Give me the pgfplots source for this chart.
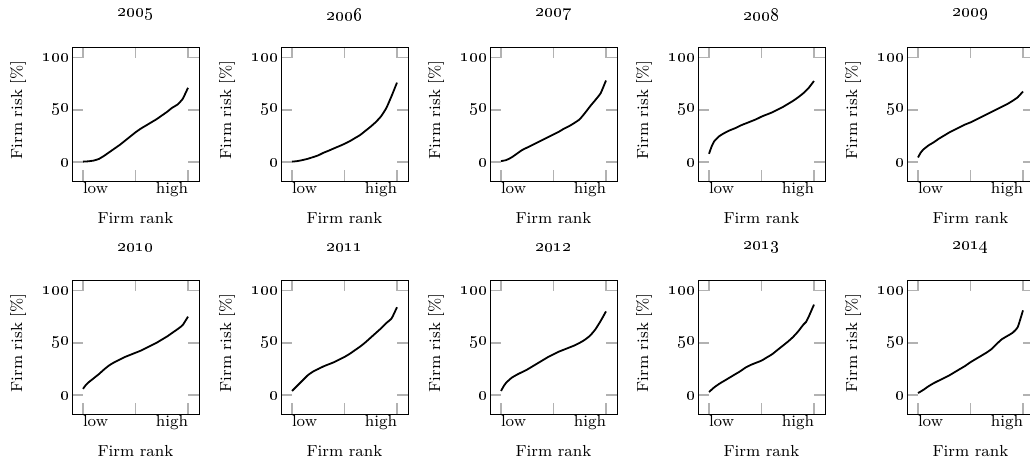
\documentclass[border=0pt]{standalone}
\usepackage{pgfplots}
\usepackage{pgfplotstable}
\pgfplotsset{compat=1.18}

% Firm risk (in %) against firm rank, one table per year
\pgfplotstableread{
x y
0 0.5
0.05 0.8
0.1 1.5
0.15 3
0.2 6
0.25 9.5
0.3 13
0.35 16.5
0.4 20.5
0.45 24.5
0.5 28.5
0.55 32
0.6 35
0.65 38
0.7 41
0.75 44.5
0.8 48
0.85 52
0.9 55
0.95 60.5
1 71
}\riskA
\pgfplotstableread{
x y
0 0.5
0.05 1
0.1 2
0.15 3.2
0.2 4.8
0.25 6.5
0.3 9
0.35 11
0.4 13.2
0.45 15.3
0.5 17.5
0.55 20
0.6 23
0.65 26
0.7 30
0.75 34
0.8 38.5
0.85 44
0.9 52
0.95 63.5
1 76
}\riskB
\pgfplotstableread{
x y
0 1
0.05 2
0.1 4.5
0.15 8
0.2 11.5
0.25 14
0.3 16.5
0.35 19
0.4 21.5
0.45 24
0.5 26.5
0.55 29
0.6 32
0.65 34.5
0.7 37.5
0.75 41
0.8 47
0.85 53.5
0.9 59.5
0.95 66
1 78
}\riskC
\pgfplotstableread{
x y
0 8
0.025 15
0.05 20
0.1 25
0.15 28
0.2 30.5
0.25 32.5
0.3 35
0.35 37
0.4 39
0.45 41
0.5 43.5
0.55 45.5
0.6 47.5
0.65 50
0.7 52.5
0.75 55.5
0.8 58.5
0.85 62
0.9 66
0.95 71
1 77.5
}\riskD
\pgfplotstableread{
x y
0 4.5
0.025 9
0.05 12
0.1 16
0.15 19
0.2 22.5
0.25 25.5
0.3 28.5
0.35 31
0.4 33.5
0.45 36
0.5 38
0.55 40.5
0.6 43
0.65 45.5
0.7 48
0.75 50.5
0.8 53
0.85 55.5
0.9 58.5
0.95 62
1 67.5
}\riskE
\pgfplotstableread{
x y
0 6
0.025 9.5
0.05 12
0.1 16
0.15 20
0.2 24.5
0.25 28.5
0.3 31.5
0.35 34
0.4 36.5
0.45 38.5
0.5 40.5
0.55 42.5
0.6 45
0.65 47.5
0.7 50
0.75 53
0.8 56
0.85 59.5
0.9 63
0.95 67
1 75
}\riskF
\pgfplotstableread{
x y
0 4
0.05 9
0.1 14
0.15 19
0.2 22.5
0.25 25
0.3 27.5
0.35 29.5
0.4 31.5
0.45 34
0.5 36.5
0.55 39.5
0.6 43
0.65 46.5
0.7 50.5
0.75 55
0.8 59.5
0.85 64
0.9 69
0.95 73.5
1 84
}\riskG
\pgfplotstableread{
x y
0 4
0.025 8.5
0.05 12
0.1 16.5
0.15 19.5
0.2 22
0.25 24.5
0.3 27.5
0.35 30.5
0.4 33.5
0.45 36.5
0.5 39
0.55 41.5
0.6 43.5
0.65 45.5
0.7 47.5
0.75 50
0.8 53
0.85 57
0.9 63
0.95 71
1 80
}\riskH
\pgfplotstableread{
x y
0 3
0.05 7.5
0.1 11
0.15 14
0.2 17
0.25 20
0.3 23
0.35 26.5
0.4 29
0.45 31
0.5 33
0.55 36
0.6 39
0.65 43
0.7 47
0.75 51
0.8 55.5
0.85 61
0.9 67.5
0.925 70
0.95 75
1 86.5
}\riskI
\pgfplotstableread{
x y
0 2
0.05 5
0.1 8.5
0.15 11.5
0.2 14
0.25 16.5
0.3 19
0.35 22
0.4 25
0.45 28
0.5 31.5
0.55 34.5
0.6 37.5
0.65 40.5
0.7 44
0.75 49
0.8 53.5
0.85 56.5
0.9 59.5
0.95 65
1 81
}\riskJ

\newcommand\osf[1]{{\small\oldstylenums{#1}}}

\pgfplotsset{
  rankplot/.style={
    scale only axis, width=63.5pt, height=67pt,
    anchor=north west,
    xmin=-0.105, xmax=1.105, ymin=-18, ymax=110,
    xtick={0,0.5,1},
    xticklabels={\makebox[0pt][l]{low},,\makebox[0pt][r]{high}},
    ytick={0,50,100},
    yticklabels={\osf{0},\osf{50},\osf{100}},
    major tick length=5.5pt,
    tick style={gray!60, line width=0.7pt},
    tick label style={font=\footnotesize},
    xticklabel style={yshift=3pt},
    yticklabel style={xshift=2.5pt},
    label style={font=\footnotesize},
    xlabel={Firm rank}, ylabel={Firm risk [\%]},
    xlabel style={at={(axis description cs:0.5,-0.28)}, anchor=center},
    ylabel style={at={(axis description cs:-0.425,0.53)}, anchor=center},
    every axis title/.style={at={(axis description cs:0.5,1.24)},
                             anchor=center, font=\footnotesize},
  },
  riskline/.style={black, line width=0.9pt, smooth, tension=0.3, no markers},
}

% one panel: left edge, top edge, year, table
\newcommand\panel[4]{%
  \begin{axis}[rankplot, at={(#1,#2)}, title={\osf{#3}}]
    \addplot[riskline] table {#4};
  \end{axis}}

\begin{document}
\begin{tikzpicture}
  \path[use as bounding box] (0,0) rectangle (515pt,-233.5pt);
  \clip (0,0) rectangle (515pt,-233.5pt);
  \panel{36pt}{-23.5pt}{2005}{\riskA}
  \panel{140.5pt}{-23.5pt}{2006}{\riskB}
  \panel{245pt}{-23.5pt}{2007}{\riskC}
  \panel{349pt}{-23.5pt}{2008}{\riskD}
  \panel{453.5pt}{-23.5pt}{2009}{\riskE}
  \panel{36pt}{-140pt}{2010}{\riskF}
  \panel{140.5pt}{-140pt}{2011}{\riskG}
  \panel{245pt}{-140pt}{2012}{\riskH}
  \panel{349pt}{-140pt}{2013}{\riskI}
  \panel{453.5pt}{-140pt}{2014}{\riskJ}
\end{tikzpicture}
\end{document}
